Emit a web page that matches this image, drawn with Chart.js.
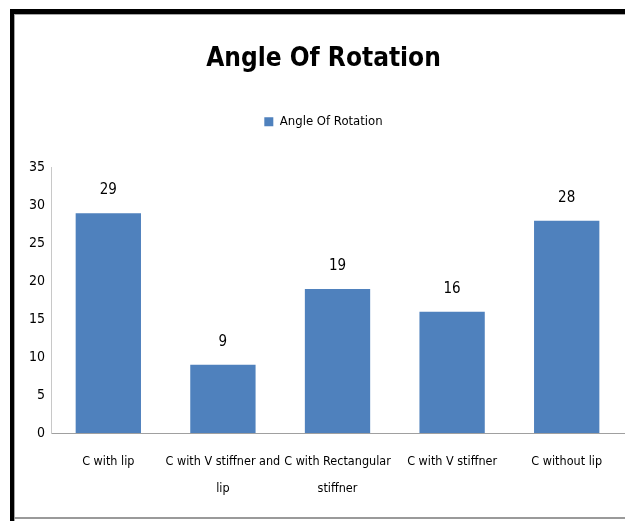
<!DOCTYPE html>
<html>
<head>
<meta charset="utf-8">
<script src="https://cdn.jsdelivr.net/npm/chart.js@4"></script>
<style>
  html, body { margin: 0; padding: 0; background: #fff; }
  .wrap { position: relative; width: 625px; height: 521px; overflow: hidden; }
  .frame {
    position: absolute; left: 10px; top: 9px; width: 640px; height: 512px;
    border-top: 5px solid #000; border-left: 4px solid #000;
    box-sizing: border-box;
  }
  .frame:before {
    content: ''; position: absolute; left: 0; top: 0; right: 0; bottom: 0;
    border-top: 1px solid #a6a6a6; border-left: 1px solid #a6a6a6;
  }
  .bottomline {
    position: absolute; left: 14px; top: 517px; width: 620px; height: 2px; background: #9a9a9a;
  }
  canvas { position: absolute; left: 0; top: 0; }
</style>
</head>
<body>
<div class="wrap">
  <div class="frame"></div>
  <div class="bottomline"></div>
  <canvas id="chart" width="625" height="521"></canvas>
</div>
<script>
const categories = [
  ['C with lip'],
  ['C with V stiffner and', 'lip'],
  ['C with Rectangular', 'stiffner'],
  ['C with V stiffner'],
  ['C without lip']
];
const angleOfRotation = [29, 9, 19, 16, 28];
const yTicks = [0, 5, 10, 15, 20, 25, 30, 35];

const FONT = '"Liberation Sans Narrow", "DejaVu Sans Condensed", sans-serif';

// draws the value above each bar
const valueLabels = {
  id: 'valueLabels',
  afterDatasetsDraw(chart) {
    const ctx = chart.ctx;
    const meta = chart.getDatasetMeta(0);
    ctx.save();
    ctx.font = '15px ' + FONT;
    ctx.fillStyle = '#000';
    ctx.textAlign = 'center';
    ctx.textBaseline = 'middle';
    meta.data.forEach((bar, i) => {
      ctx.fillText(String(angleOfRotation[i]), bar.x, bar.y - 23);
    });
    ctx.restore();
  }
};

new Chart(document.getElementById('chart'), {
  type: 'bar',
  data: {
    labels: categories,
    datasets: [{
      label: 'Angle Of Rotation',
      data: angleOfRotation,
      backgroundColor: '#4f81bd',
      borderWidth: 0,
      categoryPercentage: 1,
      barPercentage: 0.57
    }]
  },
  options: {
    responsive: false,
    animation: false,
    devicePixelRatio: 1,
    layout: { padding: { top: 44, left: 23, right: 1, bottom: 3.5 } },
    plugins: {
      title: {
        display: true,
        text: 'Angle Of Rotation',
        color: '#000',
        font: { family: FONT, size: 26, weight: 'bold', lineHeight: 1.2 },
        padding: { top: 0, bottom: 30 }
      },
      legend: {
        display: true,
        labels: {
          color: '#000',
          font: { family: FONT, size: 13 },
          boxWidth: 9,
          boxHeight: 9,
          padding: 10
        }
      },
      // empty spacer between legend and plot
      subtitle: {
        display: true,
        text: ' ',
        weight: 500,
        font: { size: 10, lineHeight: 1 },
        padding: { top: 0, bottom: 19.5 }
      },
      tooltip: { enabled: false }
    },
    scales: {
      x: {
        grid: { display: false, drawTicks: false },
        border: { display: true, color: '#a0a0a0' },
        ticks: {
          color: '#000',
          font: { family: FONT, size: 12.5, lineHeight: 2.1 },
          padding: 16,
          maxRotation: 0,
          autoSkip: false
        }
      },
      y: {
        min: 0,
        max: 35,
        afterBuildTicks(axis) { axis.ticks = yTicks.map(v => ({ value: v })); },
        grid: { display: false, drawTicks: false },
        border: { display: true, color: '#c8c8c8' },
        ticks: {
          color: '#000',
          font: { family: FONT, size: 14 },
          padding: 6
        }
      }
    }
  },
  plugins: [valueLabels]
});
</script>
</body>
</html>
